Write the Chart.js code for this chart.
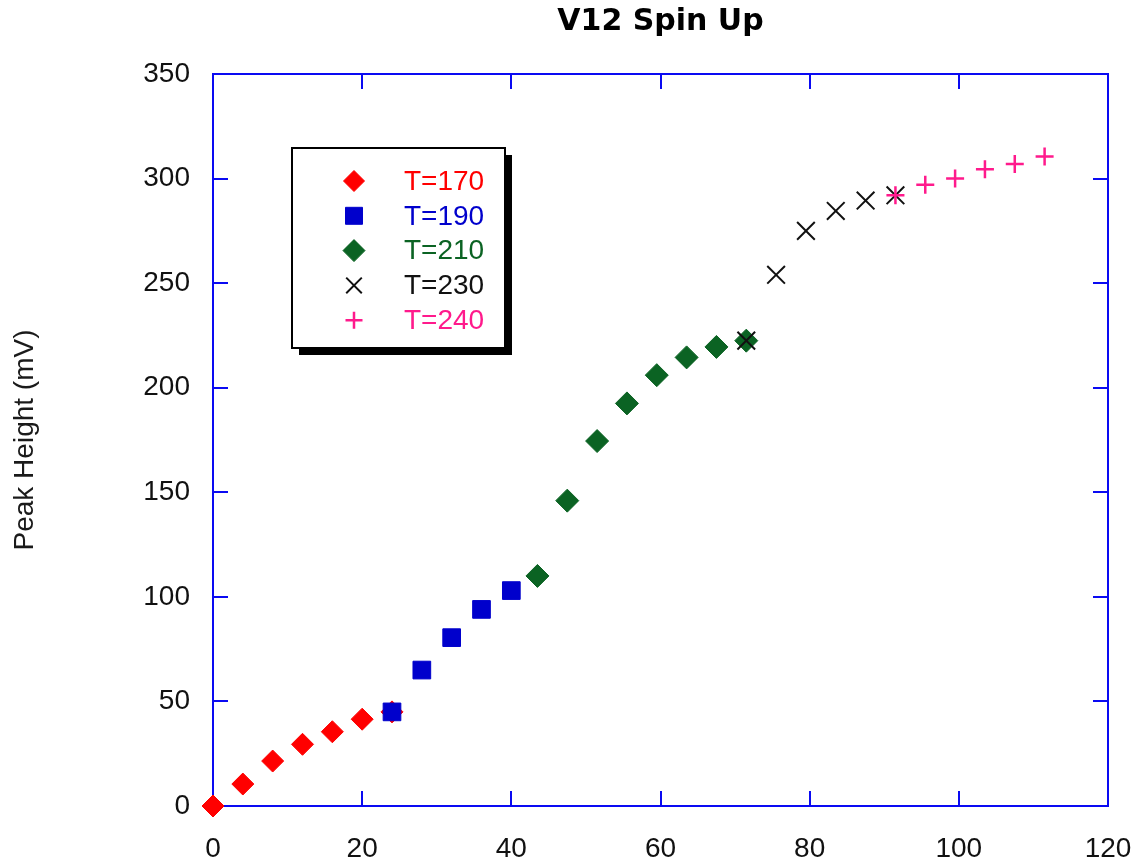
<!DOCTYPE html>
<html>
<head>
<meta charset="utf-8">
<title>V12 Spin Up</title>
<script src="https://cdn.jsdelivr.net/npm/chart.js@4/dist/chart.umd.min.js"></script>
<style>
  html, body { margin: 0; padding: 0; background: #fff; }
  #wrap { width: 1145px; height: 865px; position: relative; }
</style>
</head>
<body>
<div id="wrap"><canvas id="spinChart"></canvas></div>
<script>
// series: x = time, y = peak height (mV)
const seriesNames = ['T=170', 'T=190', 'T=210', 'T=230', 'T=240'];

const x170 = [0, 4, 8, 12, 16, 20, 24];
const y170 = [0, 10.5, 21.5, 29.5, 35.5, 41.5, 45];

const x190 = [24, 28, 32, 36, 40];
const y190 = [45, 65, 80.5, 94, 103];

const x210 = [43.5, 47.5, 51.5, 55.5, 59.5, 63.5, 67.5, 71.5];
const y210 = [110, 146, 174.5, 192.5, 206, 214.5, 219.5, 222.5];

const x230 = [71.5, 75.5, 79.5, 83.5, 87.5, 91.5];
const y230 = [222.5, 254, 275, 284.5, 289.5, 292];

const x240 = [91.5, 95.5, 99.5, 103.5, 107.5, 111.5];
const y240 = [292, 297, 300, 304.5, 307, 310.5];

const xTicks = [0, 20, 40, 60, 80, 100, 120];
const yTicks = [0, 50, 100, 150, 200, 250, 300, 350];

const FRAME = '#0a0af2';
const FONT = "'Liberation Sans', Arial, sans-serif";

function toPoints(xs, ys) {
  return xs.map((x, i) => ({ x, y: ys[i] }));
}

const styles = [
  { color: '#ff0000', pointStyle: 'rectRot', radius: 11, borderWidth: 1 },
  { color: '#0000cc', pointStyle: 'rect', radius: 12.5, borderWidth: 1 },
  { color: '#0b6323', pointStyle: 'rectRot', radius: 11.5, borderWidth: 1 },
  { color: '#111111', pointStyle: 'crossRot', radius: 12.5, borderWidth: 2 },
  { color: '#ff1a8c', pointStyle: 'cross', radius: 9, borderWidth: 2.5 },
];

const allX = [x170, x190, x210, x230, x240];
const allY = [y170, y190, y210, y230, y240];

const datasets = seriesNames.map((name, i) => ({
  label: name,
  data: toPoints(allX[i], allY[i]),
  pointStyle: styles[i].pointStyle,
  pointRadius: styles[i].radius,
  pointBorderWidth: styles[i].borderWidth,
  backgroundColor: styles[i].color,
  borderColor: styles[i].color,
  showLine: false,
  clip: false,
  order: seriesNames.length - i,
}));

// blue frame with inward ticks on all four sides
const framePlugin = {
  id: 'frame',
  beforeDatasetsDraw(chart) {
    const { ctx, chartArea: a, scales } = chart;
    const len = 15;
    ctx.save();
    ctx.strokeStyle = FRAME;
    ctx.lineWidth = 2;
    ctx.strokeRect(a.left, a.top, a.right - a.left, a.bottom - a.top);
    ctx.beginPath();
    xTicks.forEach((v) => {
      const px = Math.round(scales.x.getPixelForValue(v));
      ctx.moveTo(px, a.bottom);
      ctx.lineTo(px, a.bottom - len);
      ctx.moveTo(px, a.top);
      ctx.lineTo(px, a.top + len);
    });
    yTicks.forEach((v) => {
      const py = Math.round(scales.y.getPixelForValue(v));
      ctx.moveTo(a.left, py);
      ctx.lineTo(a.left + len, py);
      ctx.moveTo(a.right, py);
      ctx.lineTo(a.right - len, py);
    });
    ctx.stroke();
    ctx.restore();
  },
};

// boxed legend with drop shadow inside the plot
const legendBoxPlugin = {
  id: 'legendBox',
  afterDatasetsDraw(chart) {
    const { ctx } = chart;
    const box = { x: 292, y: 148, w: 213, h: 200 };
    const shadow = 7;
    ctx.save();
    ctx.fillStyle = '#000';
    ctx.fillRect(box.x + shadow, box.y + shadow, box.w, box.h);
    ctx.fillStyle = '#fff';
    ctx.fillRect(box.x, box.y, box.w, box.h);
    ctx.strokeStyle = '#000';
    ctx.lineWidth = 2;
    ctx.strokeRect(box.x, box.y, box.w, box.h);

    ctx.font = `28px ${FONT}`;
    ctx.textBaseline = 'middle';
    ctx.textAlign = 'left';
    seriesNames.forEach((name, i) => {
      const cy = 181 + i * 34.8;
      const s = styles[i];
      ctx.fillStyle = s.color;
      ctx.strokeStyle = s.color;
      ctx.lineWidth = s.borderWidth;
      Chart.helpers.drawPoint(ctx, {
        pointStyle: s.pointStyle,
        radius: s.pointStyle === 'crossRot' ? 11 : s.pointStyle === 'cross' ? 8.5 : s.radius - 0.5,
        rotation: 0,
        borderWidth: s.borderWidth,
      }, 354, cy);
      ctx.fillStyle = s.color;
      ctx.fillText(name, 404, cy + 1);
    });
    ctx.restore();
  },
};

new Chart(document.getElementById('spinChart'), {
  type: 'scatter',
  data: { datasets },
  options: {
    responsive: true,
    maintainAspectRatio: false,
    animation: false,
    layout: { padding: { left: 0, right: 37, top: 0, bottom: 0 } },
    plugins: {
      legend: { display: false },
      tooltip: { enabled: false },
      title: {
        display: true,
        text: 'V12 Spin Up',
        fullSize: false,
        color: '#000',
        font: { family: "'DejaVu Sans', sans-serif", size: 30, weight: 'bold' },
        padding: { top: 4, bottom: 34 },
      },
    },
    scales: {
      x: {
        type: 'linear',
        min: 0,
        max: 120,
        afterFit(scale) {
          scale.height = 59;
          scale.paddingLeft = 0;
          scale.paddingRight = 0;
        },
        afterBuildTicks(scale) { scale.ticks = xTicks.map((v) => ({ value: v })); },
        grid: { display: false, drawTicks: false },
        border: { display: false },
        ticks: { color: '#111', padding: 26, maxRotation: 0, font: { family: FONT, size: 28 } },
      },
      y: {
        type: 'linear',
        min: 0,
        max: 350,
        afterFit(scale) {
          scale.width = 213;
          scale.paddingTop = 0;
          scale.paddingBottom = 0;
        },
        afterBuildTicks(scale) { scale.ticks = yTicks.map((v) => ({ value: v })); },
        grid: { display: false, drawTicks: false },
        border: { display: false },
        ticks: { color: '#111', padding: 23, font: { family: FONT, size: 28 } },
        title: {
          display: true,
          text: 'Peak Height (mV)',
          color: '#1a1a1a',
          font: { family: FONT, size: 28 },
          padding: { top: 8, bottom: 0 },
        },
      },
    },
  },
  plugins: [framePlugin, legendBoxPlugin],
});
</script>
</body>
</html>
